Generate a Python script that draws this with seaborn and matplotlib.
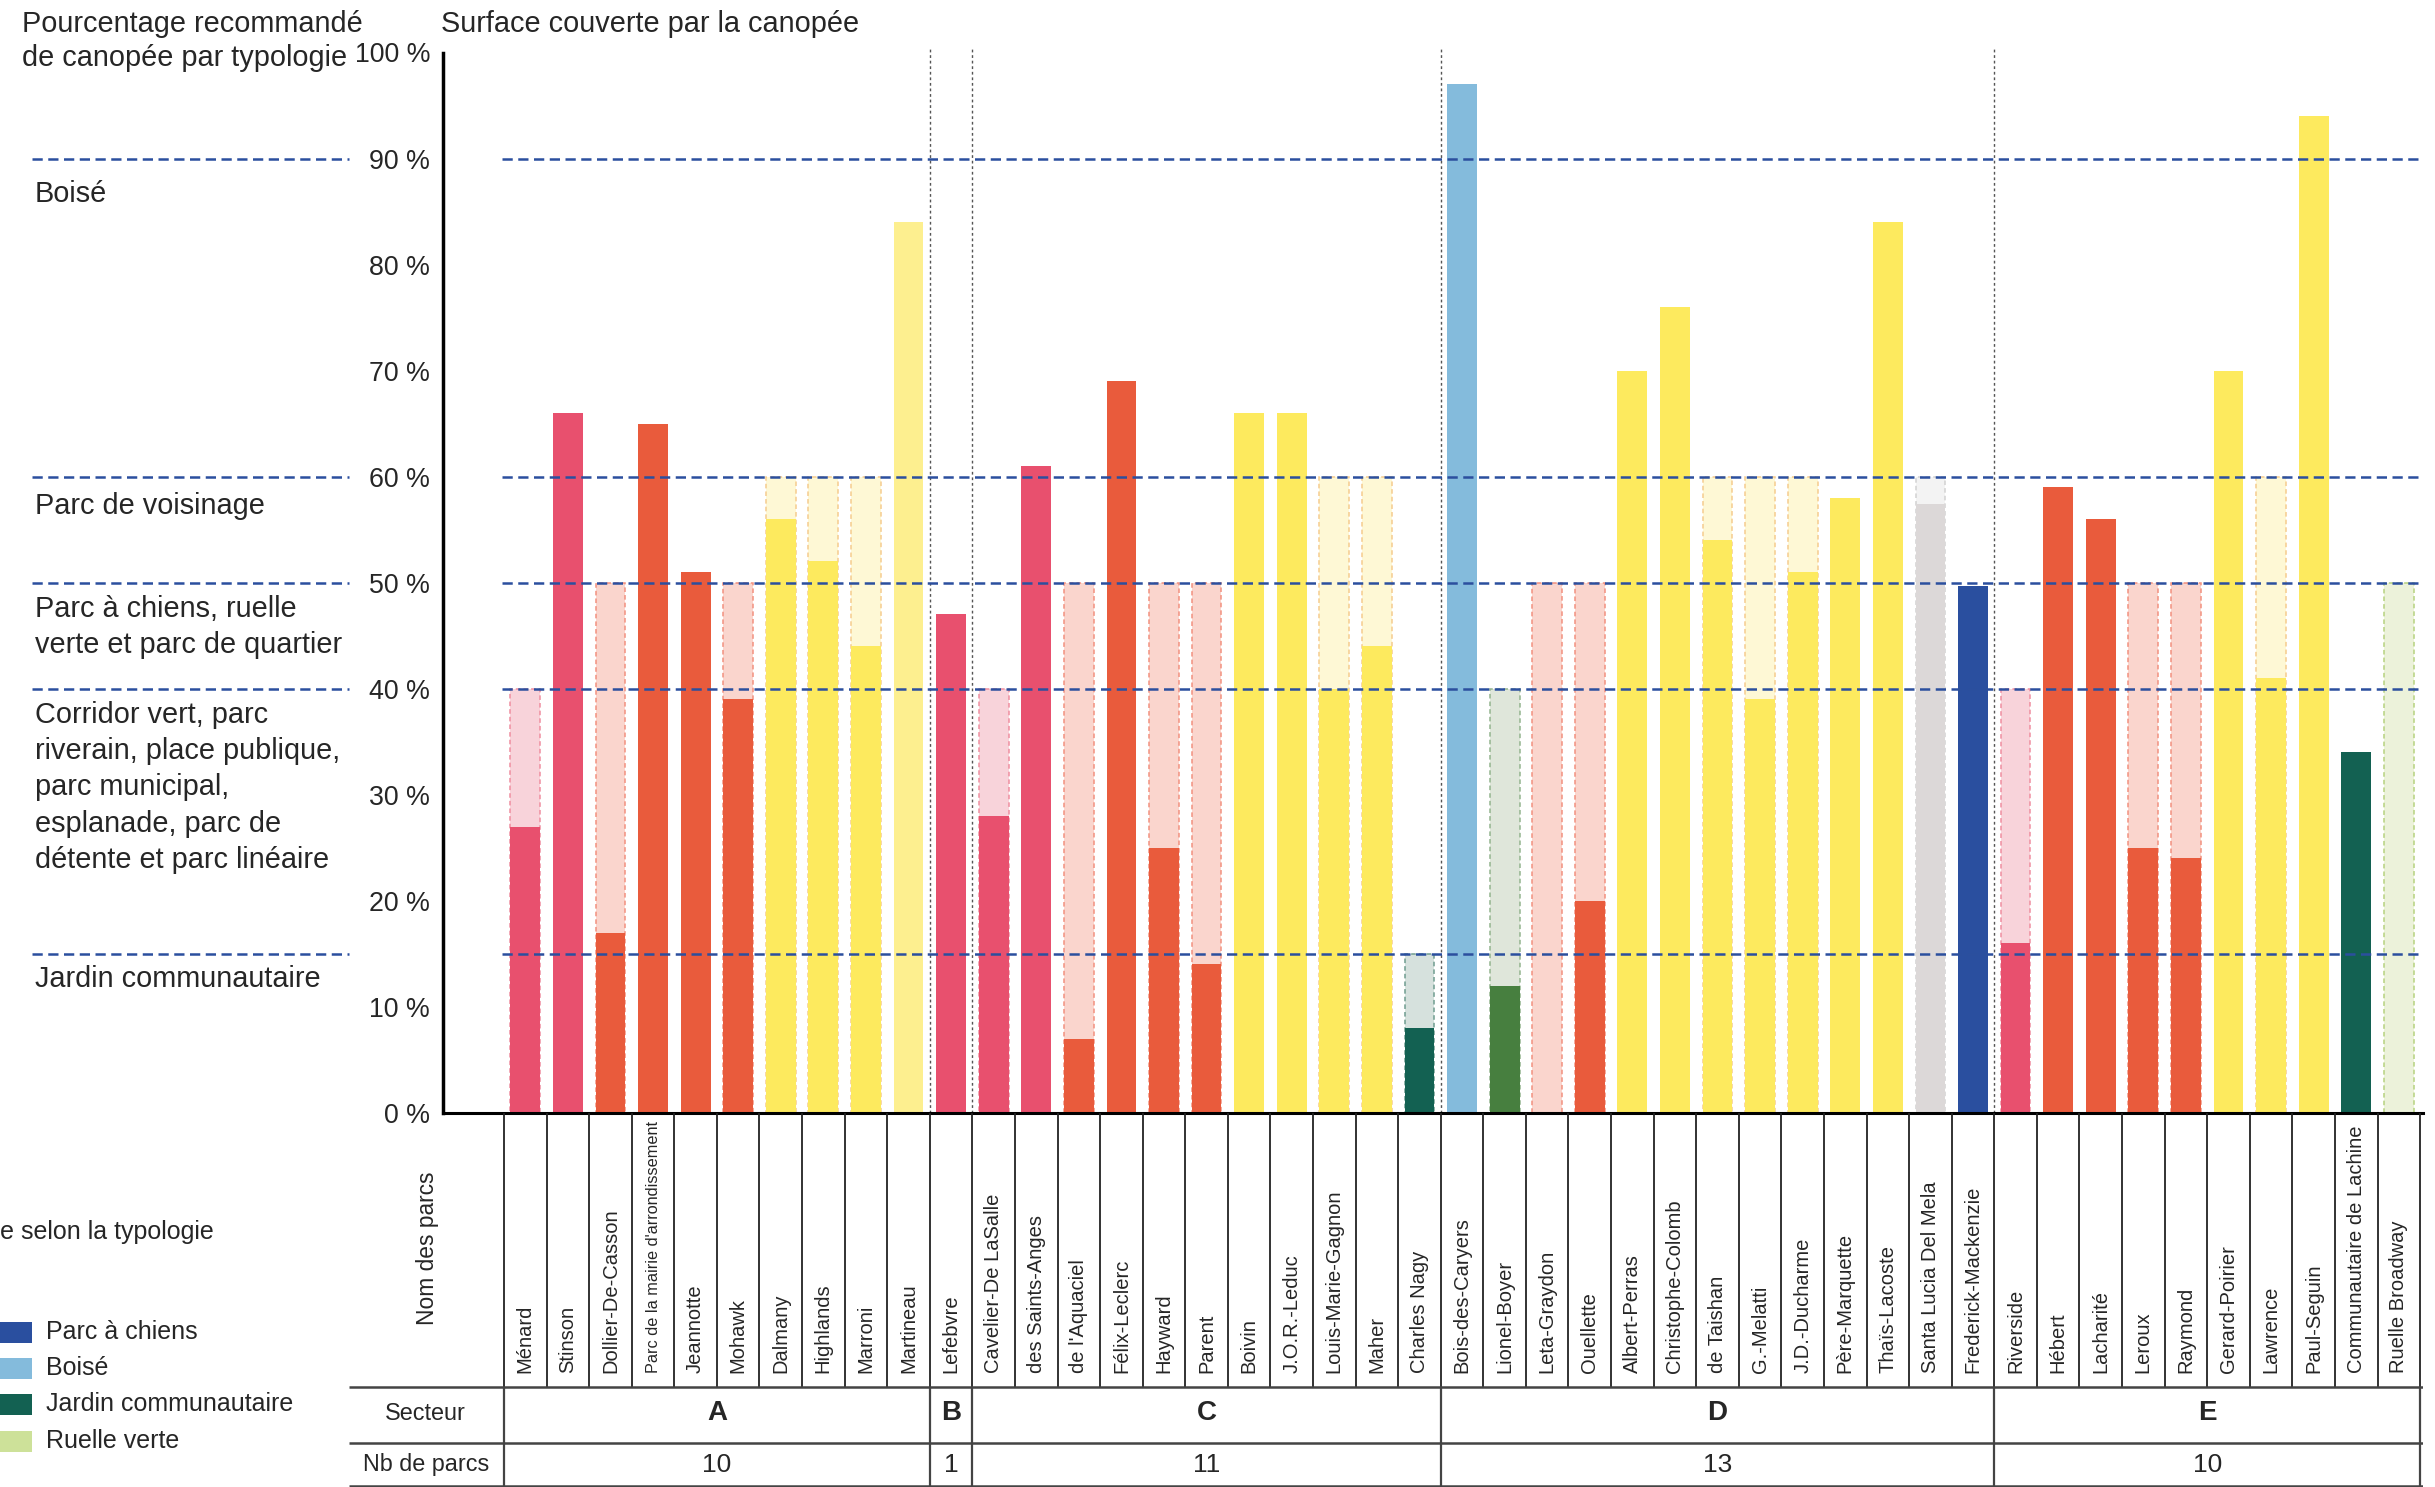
import matplotlib
matplotlib.use("Agg")
import matplotlib.pyplot as plt
import matplotlib.transforms as mtransforms
from matplotlib.lines import Line2D
from matplotlib.patches import Rectangle
import numpy as np
import pandas as pd
import seaborn as sns

# --- data -------------------------------------------------------------------
parcs = [
    "Ménard", "Stinson", "Dollier-De-Casson", "Parc de la mairie d'arrondissement",
    "Jeannotte", "Mohawk", "Dalmany", "Highlands", "Marroni", "Martineau",
    "Lefebvre",
    "Cavelier-De LaSalle", "des Saints-Anges", "de l'Aquaciel", "Félix-Leclerc",
    "Hayward", "Parent", "Boivin", "J.O.R.-Leduc", "Louis-Marie-Gagnon", "Maher",
    "Charles Nagy",
    "Bois-des-Caryers", "Lionel-Boyer", "Leta-Graydon", "Ouellette", "Albert-Perras",
    "Christophe-Colomb", "de Taishan", "G.-Melatti", "J.D.-Ducharme", "Père-Marquette",
    "Thaïs-Lacoste", "Santa Lucia Del Mela", "Frederick-Mackenzie",
    "Riverside", "Hébert", "Lacharité", "Leroux", "Raymond", "Gerard-Poirier",
    "Lawrence", "Paul-Seguin", "Communautaire de Lachine", "Ruelle Broadway",
]

# canopy cover (%)
canopee = [
    27, 66, 17, 65, 51, 39, 56, 52, 44, 84,
    47,
    28, 61, 7, 69, 25, 14, 66, 66, 40, 44, 8,
    97, 12, 0, 20, 70, 76, 54, 39, 51, 58, 84, 57.4, 49.7,
    16, 59, 56, 25, 24, 70, 41, 94, 34, 0,
]

# recommended canopy drawn behind the bar (%), 0 where none is shown
cible = [
    40, 0, 50, 0, 0, 50, 60, 60, 60, 0,
    0,
    40, 0, 50, 0, 50, 50, 0, 0, 60, 60, 15,
    0, 40, 50, 50, 0, 0, 60, 60, 60, 0, 0, 60, 0,
    40, 0, 0, 50, 50, 0, 60, 0, 0, 50,
]

typologie = [
    "corridor", "corridor", "quartier", "quartier", "quartier", "quartier",
    "voisinage", "voisinage", "voisinage", "voisinage_pale",
    "corridor",
    "corridor", "corridor", "quartier", "quartier", "quartier", "quartier",
    "voisinage", "voisinage", "voisinage", "voisinage", "jardin",
    "boise", "corridor_vert", "quartier", "quartier", "voisinage", "voisinage",
    "voisinage", "voisinage", "voisinage", "voisinage", "voisinage", "autre", "chiens",
    "corridor", "quartier", "quartier", "quartier", "quartier", "voisinage",
    "voisinage", "voisinage", "jardin", "ruelle",
]

secteurs = ["A", "B", "C", "D", "E"]
nb_parcs = [10, 1, 11, 13, 10]

seuils = [90, 60, 50, 40, 15]
seuil_textes = [
    ["Boisé"],
    ["Parc de voisinage"],
    ["Parc à chiens, ruelle", "verte et parc de quartier"],
    ["Corridor vert, parc", "riverain, place publique,", "parc municipal,",
     "esplanade, parc de", "détente et parc linéaire"],
    ["Jardin communautaire"],
]

legende_labels = ["Parc à chiens", "Boisé", "Jardin communautaire", "Ruelle verte"]
legende_typo = ["chiens", "boise", "jardin", "ruelle"]

# --- styles -----------------------------------------------------------------
# (solid, light background, dashed edge)
STYLE = {
    "corridor": ("#e8506e", "#f8d3da", "#ef8ea0"),
    "corridor_vert": ("#477f3f", "#dfe6da", "#93b48e"),
    "quartier": ("#e95b3c", "#fad5cd", "#f2917f"),
    "voisinage": ("#fdea5e", "#fef8d5", "#f5cc8e"),
    "voisinage_pale": ("#fdef8f", "#fef8d5", "#f5cc8e"),
    "autre": ("#dcd8d8", "#f3f3f3", "#d2d2d2"),
    "boise": ("#84bbdc", "#d9eaf5", "#84bbdc"),
    "jardin": ("#136152", "#d6e1dd", "#6f9c8f"),
    "chiens": ("#2a4f9f", "#d4dcec", "#8fa3cf"),
    "ruelle": ("#cde199", "#ecf2da", "#b6d27f"),
}
BLEU = "#2b4f9e"

sns.set_style("white")
plt.rcParams["font.family"] = ["Liberation Sans", "DejaVu Sans"]

W, H = 2435, 1487
fig = plt.figure(figsize=(W / 100, H / 100), dpi=100)


def fx(px):
    return px / W


def fy(py):
    return 1 - py / H


COL = 42.58   # column width in px
X0 = 504      # left edge of first column in px


def dx(px):
    return (px - X0) / COL - 0.5


Y0, Y100 = 1112.8, 52.5
ax = fig.add_axes([fx(442.6), fy(Y0), fx(2423) - fx(442.6), fy(Y100) - fy(Y0)])

n = len(parcs)
df = pd.DataFrame({"parc": parcs, "canopee": canopee, "fond": cible,
                   "typologie": typologie})

# light "recommended" bars behind
sns.barplot(data=df, x="parc", y="fond", hue="parc", order=parcs, hue_order=parcs,
            palette={p: STYLE[t][1] for p, t in zip(parcs, typologie)},
            width=0.7, saturation=1, errorbar=None, legend=False, ax=ax)
fond_patches = list(ax.patches)
for p in fond_patches:
    i = int(round(p.get_x() + p.get_width() / 2))
    if cible[i] == 0:
        p.set_visible(False)
        continue
    p.set_edgecolor(STYLE[typologie[i]][2])
    p.set_linewidth(1.1)
    p.set_linestyle((0, (3, 2)))

# measured canopy
sns.barplot(data=df, x="parc", y="canopee", hue="parc", order=parcs, hue_order=parcs,
            palette={p: STYLE[t][0] for p, t in zip(parcs, typologie)},
            width=0.7, saturation=1, errorbar=None, legend=False, ax=ax)
for p in ax.patches[len(fond_patches):]:
    p.set_linewidth(0)

# recommended thresholds
trans = mtransforms.blended_transform_factory(fig.transFigure, ax.transData)
for s in seuils:
    ax.plot([dx(502.3), dx(2423)], [s, s], color=BLEU, lw=1.8, dashes=(4.1, 2.2),
            zorder=4, clip_on=False)
    fig.add_artist(Line2D([fx(31.6), fx(348.5)], [s, s], transform=trans, color=BLEU,
                          lw=1.8, dashes=(4.1, 2.2)))

# sector separators
for b in np.cumsum(nb_parcs)[:-1]:
    ax.plot([b - 0.5, b - 0.5], [0, 100.3], color="#555555", lw=1.0,
            linestyle=(0, (2, 2)), zorder=0.5, clip_on=False)

ax.set_xlim(dx(442.6), dx(2423))
ax.set_ylim(0, 100)
ax.set_xlabel("")
ax.set_ylabel("")
for side in ["top", "right"]:
    ax.spines[side].set_visible(False)
ax.spines["left"].set_linewidth(2.5)
ax.spines["bottom"].set_linewidth(2.2)
ax.spines["left"].set_color("black")
ax.spines["bottom"].set_color("black")

ax.set_yticks(range(0, 101, 10))
ax.set_yticklabels([f"{v} %" for v in range(0, 101, 10)])
ax.tick_params(axis="y", direction="in", width=2.3, length=15.7, pad=9,
               labelsize=19.3, color="black")
for v, tick in zip(range(0, 101, 10), ax.yaxis.get_major_ticks()):
    if v % 20 == 0:
        tick.tick1line.set_markersize(37)

ax.set_xticks(np.arange(1, n + 1) - 0.5)
ax.set_xticklabels([])
ax.tick_params(axis="x", direction="in", length=18.5, width=1.9, color="black")

# --- texts top and left -------------------------------------------------------
fs = 20.8
fig.text(fx(21.8), fy(32), "Pourcentage recommandé", fontsize=fs, va="baseline")
fig.text(fx(21.8), fy(66), "de canopée par typologie", fontsize=fs, va="baseline")
fig.text(fx(441), fy(32), "Surface couverte par la canopée", fontsize=fs, va="baseline")

bases = [202.5, 514, 617, 722.6, 987]
for lignes, b in zip(seuil_textes, bases):
    for k, ligne in enumerate(lignes):
        fig.text(fx(35), fy(b + k * 36.3), ligne, fontsize=fs, va="baseline")

# --- legend (cut on the left) -----------------------------------------------
fig.text(fx(213.5), fy(1232), "Légende selon la typologie", fontsize=18,
         ha="right", va="center")
for lab, t, c in zip(legende_labels, legende_typo, [1332, 1368, 1404, 1441]):
    fig.add_artist(Rectangle((fx(-10), fy(c + 10.5)), fx(41.6), 21 / H,
                             transform=fig.transFigure, color=STYLE[t][0], lw=0))
    fig.text(fx(46), fy(c), lab, fontsize=18, va="center")

# --- table under the chart ----------------------------------------------------
tab = fig.add_axes([fx(349), 0, fx(2423) - fx(349), (H - Y0) / H])
tab.set_xlim(dx(349), dx(2423))
tab.set_ylim(H - Y0, 0)
tab.axis("off")

y_nom = 1387 - Y0
y_sect = 1443 - Y0
tab.vlines(np.arange(n + 1) - 0.5, 0, y_nom, color="#222222", lw=1.3)
tab.hlines([y_nom, y_sect, H - Y0 - 1.2], dx(349), dx(2423), color="#444444", lw=1.8)
bornes = np.concatenate([[0], np.cumsum(nb_parcs)]) - 0.5
tab.vlines(bornes, y_nom, H - Y0, color="#444444", lw=1.6)

for i, nom in enumerate(parcs):
    taille = 11.7 if len(nom) > 26 else 14.5
    tab.text(i, 260, nom, rotation=90, ha="center", va="bottom", fontsize=taille)

tab.text(dx(427.7), 1248 - Y0, "Nom des parcs", rotation=90, ha="center",
         va="center", fontsize=16.4)
tab.text(dx(425), 1413 - Y0, "Secteur", ha="center", va="center", fontsize=16.8)
tab.text(dx(426), 1465 - Y0, "Nb de parcs", ha="center", va="center", fontsize=16.8)

for s, nb, a, b in zip(secteurs, nb_parcs, bornes[:-1], bornes[1:]):
    tab.text((a + b) / 2, 1413 - Y0, s, ha="center", va="center", fontsize=20,
             fontweight="bold")
    tab.text((a + b) / 2, 1465 - Y0, str(nb), ha="center", va="center", fontsize=19)

fig.savefig("out.png", dpi=100)
